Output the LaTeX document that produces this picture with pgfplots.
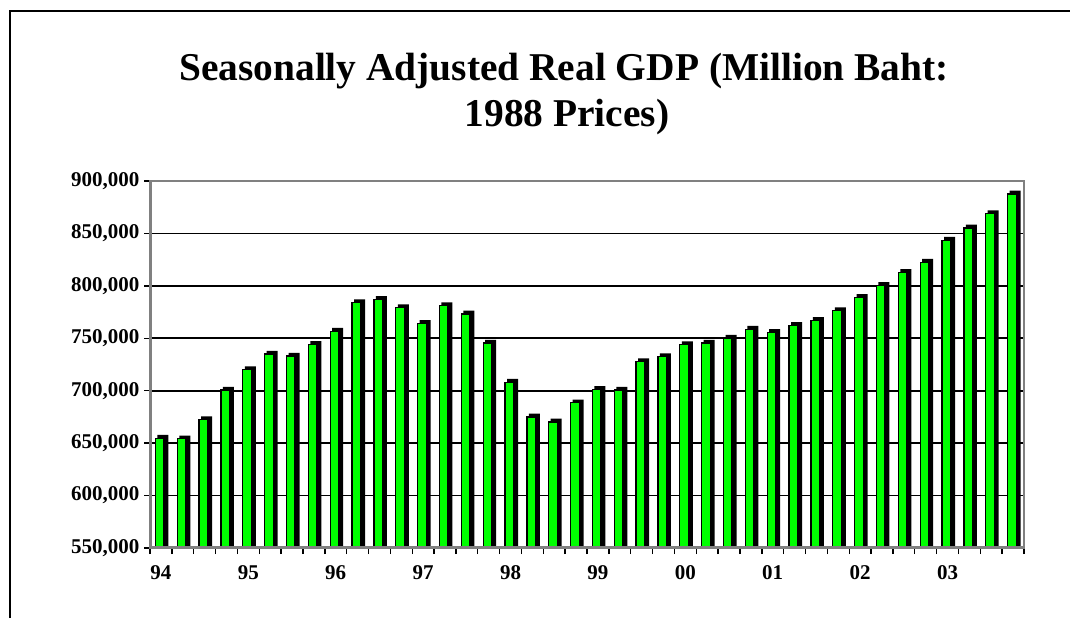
\documentclass[border=0pt]{standalone}
\usepackage{fontspec}
\setmainfont{Liberation Serif}
\usepackage{pgfplots}
\usepackage{pgfplotstable}
\pgfplotsset{compat=1.18}
\definecolor{bargreen}{RGB}{0,255,0}
\definecolor{axgray}{RGB}{128,128,128}
\pgfplotstableread{
x y
0 655900
1 655300
2 673600
3 701800
4 721400
5 736200
6 734300
7 745400
8 758000
9 785200
10 788400
11 780500
12 765300
13 782400
14 774500
15 746700
16 709300
17 676200
18 671400
19 689700
20 702400
21 701800
22 729000
23 733700
24 745100
25 746700
26 751400
27 759900
28 756800
29 763400
30 768200
31 777600
32 790300
33 801700
34 814000
35 823800
36 844700
37 856400
38 870000
39 888900
}\gdp
\begin{document}
\begin{tikzpicture}
\useasboundingbox (0,0) rectangle (1070pt,618pt);
\draw[line width=2pt] (9.5pt,0) -- (9.5pt,607pt) -- (1070pt,607pt);
\node[anchor=base, font=\bfseries\fontsize{39.4}{39.4}\selectfont] at (564pt,537pt) {Seasonally Adjusted Real GDP (Million Baht:};
\node[anchor=base, font=\bfseries\fontsize{39.4}{39.4}\selectfont] at (567pt,491pt) {1988 Prices)};
\begin{axis}[
  at={(150pt,70pt)}, anchor=south west,
  width=874pt, height=367pt, scale only axis,
  xmin=-0.5, xmax=39.5, ymin=550000, ymax=900000,
  ytick={550000,600000,...,900000},
  scaled y ticks=false,
  /pgf/number format/fixed,
  /pgf/number format/1000 sep={,},
  /pgf/number format/assume math mode=true,
  yticklabel style={font=\bfseries\fontsize{21}{21}\selectfont, xshift=-1pt},
  xtick={0,4,...,36},
  xticklabels={94,95,96,97,98,99,00,01,02,03},
  xticklabel style={font=\bfseries\fontsize{21}{21}\selectfont, yshift=-8pt},
  minor xtick={-0.5,0.5,...,39.5},
  major x tick style={draw=none},
  minor x tick style={black, line width=1.4pt},
  minor tick length=6pt,
  major tick length=6pt,
  y tick style={black, line width=1.4pt},
  tick align=outside,
  ytick pos=left, xtick pos=bottom,
  ymajorgrids,
  grid style={black, line width=1.7pt},
  axis line style={axgray, line width=2pt},
  clip=true,
]
\addplot[ybar, bar width=11pt, bar shift=2pt, fill=black, draw=none] table[x=x, y expr=\thisrow{y}+1900] {\gdp};
\addplot[ybar, bar width=8.6pt, bar shift=-1.2pt, fill=bargreen, draw=black, line width=1.3pt] table[x=x, y expr=\thisrow{y}-1200] {\gdp};
\draw[axgray, line width=3pt] (rel axis cs:0,0) -- (rel axis cs:0,1);
\draw[axgray, line width=3pt] (rel axis cs:0,0) -- (rel axis cs:1,0);
\end{axis}
\end{tikzpicture}
\end{document}
